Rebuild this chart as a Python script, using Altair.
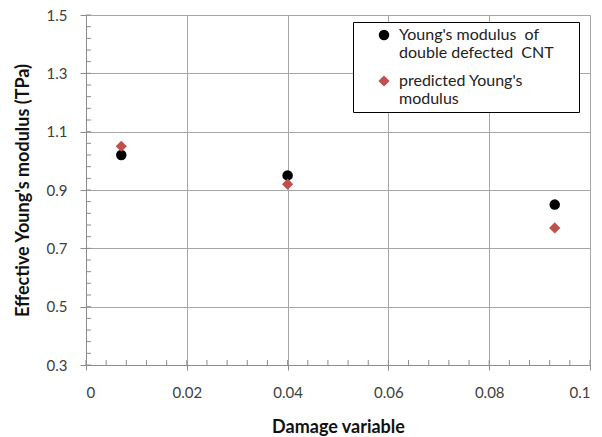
import altair as alt
import pandas as pd

damage = [0.007, 0.040, 0.093]
young_double = [1.02, 0.95, 0.85]
young_pred = [1.05, 0.92, 0.77]
NB = "\u00a0"
ZW = "\u200b"
series_names = [f"Young's modulus {NB}of\ndouble defected {NB}CNT{NB*5}{ZW}", "predicted Young's\nmodulus"]
y_ticks = [0.3, 0.5, 0.7, 0.9, 1.1, 1.3, 1.5]
x_ticks = [0, 0.02, 0.04, 0.06, 0.08, 0.1]
y_minor = [round(0.3 + 0.04 * i, 2) for i in range(31)]
x_minor = [round(0.004 * i, 3) for i in range(26)]

rows = []
for d, a, b in zip(damage, young_double, young_pred):
    rows.append({"x": d, "y": a, "s": series_names[0]})
    rows.append({"x": d, "y": b, "s": series_names[1]})
df = pd.DataFrame(rows)

FONT = "Lato"
AX = "#8C8C8C"
GRID = "#A6A6A6"
xs = alt.Scale(domain=[0, 0.1], nice=False)
ys = alt.Scale(domain=[0.3, 1.5], nice=False)

pts = alt.Chart(df).mark_point(filled=True, opacity=1).encode(
    x=alt.X("x:Q", scale=xs, title="Damage variable",
            axis=alt.Axis(values=x_ticks, labelExpr="datum.value == 0 ? '0' : format(datum.value, '.2~f')",
                          grid=True, gridColor=GRID, domainColor=AX, tickColor=AX,
                          tickSize=5, labelPadding=15, titlePadding=18, labelFontSize=15,
                          labelColor="#404040", titleFontSize=18, titleFontWeight="bold",
                          titleColor="#111111", labelFont=FONT, titleFont=FONT)),
    y=alt.Y("y:Q", scale=ys, title="Effective Young's modulus (TPa)",
            axis=alt.Axis(values=y_ticks, format=".1f", grid=True, gridColor=GRID,
                          domainColor=AX, tickColor=AX, tickSize=6, labelPadding=13,
                          titlePadding=14, labelFontSize=15, labelColor="#404040",
                          titleFontSize=18, titleFontWeight="bold", titleColor="#111111",
                          labelFont=FONT, titleFont=FONT)),
    color=alt.Color("s:N", scale=alt.Scale(domain=series_names, range=["#000000", "#C0504D"]),
                    legend=alt.Legend(title=None, orient="none", legendX=267, legendY=7,
                                      strokeColor="#000000", fillColor="#FFFFFF", padding=5,
                                      labelFontSize=16, labelFont=FONT, labelColor="#222222",
                                      labelExpr="split(datum.label, '\\n')", labelLimit=400,
                                      rowPadding=12, symbolOffset=18, labelOffset=7)),
    shape=alt.Shape("s:N", scale=alt.Scale(domain=series_names, range=["circle", "diamond"]),
                    legend=None),
    size=alt.Size("s:N", scale=alt.Scale(domain=series_names, range=[110, 125]), legend=None),
)

ymin = alt.Chart(pd.DataFrame({"v": y_minor})).mark_rule(color=AX).encode(
    y=alt.Y("v:Q", scale=ys), x=alt.value(0), x2=alt.value(5))
xmin = alt.Chart(pd.DataFrame({"v": x_minor})).mark_rule(color=AX).encode(
    x=alt.X("v:Q", scale=xs), y=alt.value(350), y2=alt.value(345))

chart = alt.layer(ymin, xmin, pts).properties(
    width=504, height=350,
    autosize=alt.AutoSizeParams(type="none"),
    padding={"left": 86, "top": 15, "right": 12, "bottom": 72},
).configure_view(stroke=None).configure(background="white")

chart.save("out.html", embed_options={"renderer": "svg", "actions": False})
